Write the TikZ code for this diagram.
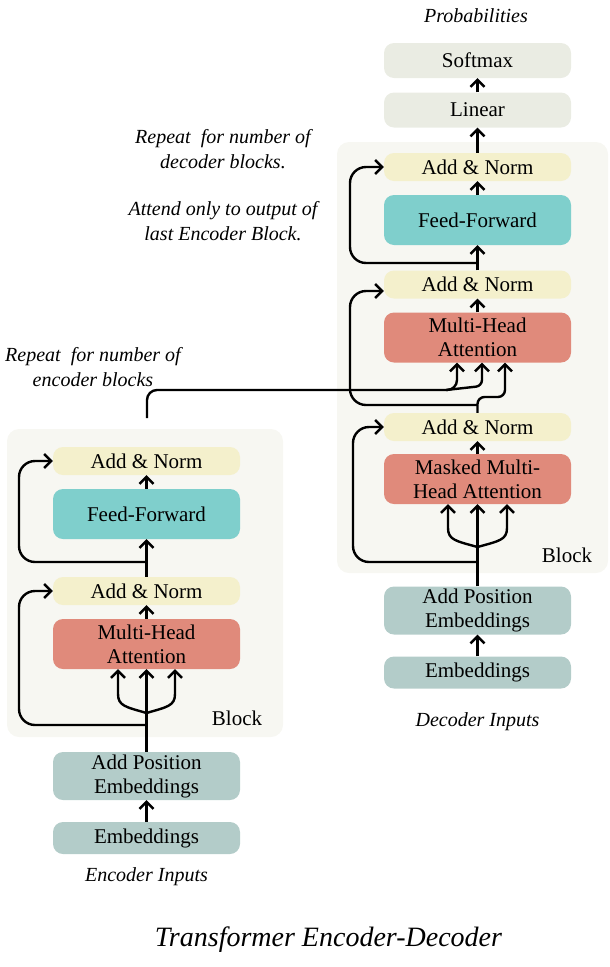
\documentclass[tikz,border=0pt]{standalone}
\usepackage{fontspec}
\setmainfont{Liberation Serif}
\usetikzlibrary{arrows.meta}
\definecolor{blockbg}{HTML}{F7F7F2}
\definecolor{cyel}{HTML}{F4F0CC}
\definecolor{cteal}{HTML}{7FCFCC}
\definecolor{csalm}{HTML}{E08A7B}
\definecolor{cemb}{HTML}{B3CCC9}
\definecolor{cgray}{HTML}{EAECE3}
\begin{document}
\begin{tikzpicture}[x=1pt,y=-1pt,
  box/.style={rounded corners=10pt, minimum width=187pt, inner sep=0pt, align=center, font=\fontsize{21}{24}\selectfont, text=black},
  an/.style={box, fill=cyel, minimum height=28pt},
  ff/.style={box, fill=cteal, minimum height=50pt},
  att/.style={box, fill=csalm, minimum height=50pt},
  emb/.style={box, fill=cemb},
  outb/.style={box, fill=cgray, minimum height=35pt},
  lbl/.style={inner sep=0pt, align=center, font=\fontsize{21}{24}\selectfont},
  ital/.style={inner sep=0pt, align=center, font=\fontsize{20}{25}\selectfont\itshape},
  ln/.style={line width=2.4pt},
  arr/.style={line width=2.4pt, -{Straight Barb[length=7pt,width=14pt]}},
]
\useasboundingbox (0,0) rectangle (610,967);
% block backgrounds
\fill[blockbg, rounded corners=12pt] (7,429) rectangle (283,737);
\fill[blockbg, rounded corners=12pt] (337,142) rectangle (608,573);

% ---------------- Encoder ----------------
\node[an]  (eAN2) at (146.5,461) {Add \& Norm};
\node[ff]  (eFF)  at (146.5,514) {Feed-Forward};
\node[an]  (eAN1) at (146.5,591) {Add \& Norm};
\node[att] (eMHA) at (146.5,644) {Multi-Head\\Attention};
\node[emb, minimum height=48pt] (ePos) at (146.5,776) {Add Position\\Embeddings};
\node[emb, minimum height=32pt] (eEmb) at (146.5,838) {Embeddings};
\node[lbl]  (eBlk) at (237,718) {Block};
\node[ital] (eIn)  at (146.5,877) {Encoder Inputs};
\node[ital] (eRep) at (93,367.5) {Repeat\ \ for number of\\encoder blocks};

% ---------------- Decoder ----------------
\node[outb] (dSoft) at (477.5,60.5) {Softmax};
\node[outb] (dLin)  at (477.5,110) {Linear};
\node[an]   (dAN3)  at (477.5,167) {Add \& Norm};
\node[ff]   (dFF)   at (477.5,220) {Feed-Forward};
\node[an]   (dAN2)  at (477.5,284.5) {Add \& Norm};
\node[att]  (dMHA)  at (477.5,337.5) {Multi-Head\\Attention};
\node[an]   (dAN1)  at (477.5,427) {Add \& Norm};
\node[att]  (dMMHA) at (477.5,479) {Masked Multi-\\Head Attention};
\node[emb, minimum height=48pt] (dPos) at (477.5,610.5) {Add Position\\Embeddings};
\node[emb, minimum height=32pt] (dEmb) at (477.5,672.5) {Embeddings};
\node[lbl]  (dBlk)  at (567,555) {Block};
\node[ital] (dIn)   at (477.5,722) {Decoder Inputs};
\node[ital] (dProb) at (476,16) {Probabilities};
\node[ital] (dRep)  at (223,149.5) {Repeat\ \ for number of\\decoder blocks.};
\node[ital] (dAtt)  at (223,221.5) {Attend only to output of\\last Encoder Block.};

\node[inner sep=0pt, font=\fontsize{28}{32}\selectfont\itshape] (title) at (328.5,940) {Transformer Encoder-Decoder};

% ---------------- Encoder connectors ----------------
\draw[arr] (eEmb.north) -- (ePos.south);
\draw[arr] (ePos.north) -- (eMHA.south);
\coordinate (ej) at (146.5,713);
\draw[arr] (ej) .. controls (126,707) and (118,706) .. (118,694) -- ([xshift=-28.5pt]eMHA.south);
\draw[arr] (ej) .. controls (167,707) and (175,706) .. (175,694) -- ([xshift=28.5pt]eMHA.south);
\draw[arr] (eMHA.north) -- (eAN1.south);
\draw[arr] (eAN1.north) -- (eFF.south);
\draw[arr] (eFF.north) -- (eAN2.south);
\coordinate (el1) at (146.5,725);
\draw[arr, rounded corners=16pt] (el1) -- (19,725) -- (19,591) -- (eAN1.west);
\coordinate (el2) at (146.5,562);
\draw[arr, rounded corners=16pt] (el2) -- (19,562) -- (19,461) -- (eAN2.west);

% encoder -> decoder cross attention
\coordinate (es) at (147,418);
\coordinate (eh) at (446,390);
\draw[arr, rounded corners=10pt] (es) -- (147,390) -- (457,390) -- ([xshift=-20.5pt]dMHA.south);
\draw[arr, rounded corners=6pt] (eh) -- (482,386) -- ([xshift=4.5pt]dMHA.south);

% ---------------- Decoder connectors ----------------
\draw[arr] (dEmb.north) -- (dPos.south);
\draw[arr] (dPos.north) -- (dMMHA.south);
\coordinate (dj) at (477.5,547);
\draw[arr] (dj) .. controls (456,541) and (448,540) .. (448,528) -- ([xshift=-29.5pt]dMMHA.south);
\draw[arr] (dj) .. controls (499,541) and (507,540) .. (507,528) -- ([xshift=29.5pt]dMMHA.south);
\draw[arr] (dMMHA.north) -- (dAN1.south);
\coordinate (dl1) at (477.5,562);
\draw[arr, rounded corners=16pt] (dl1) -- (353,562) -- (353,427) -- (dAN1.west);
\draw[arr, rounded corners=7pt] (dAN1.north) -- (477.5,397) -- (505,397) -- ([xshift=27.5pt]dMHA.south);
\coordinate (dl2) at (477.5,405);
\draw[arr, rounded corners=16pt] (dl2) -- (350,405) -- (350,291) -- ([yshift=-6.5pt]dAN2.west);
\draw[arr] (dMHA.north) -- (dAN2.south);
\draw[arr] (dAN2.north) -- (dFF.south);
\coordinate (dl3) at (477.5,263);
\draw[arr, rounded corners=16pt] (dl3) -- (350,263) -- (350,167) -- (dAN3.west);
\draw[arr] (dFF.north) -- (dAN3.south);
\draw[arr] (dAN3.north) -- (dLin.south);
\draw[arr] (dLin.north) -- (dSoft.south);
\end{tikzpicture}
\end{document}
